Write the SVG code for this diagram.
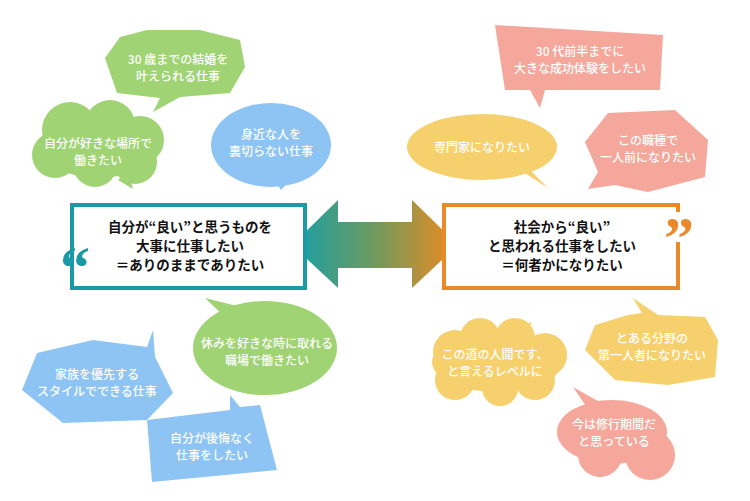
<svg xmlns="http://www.w3.org/2000/svg" width="750" height="501" viewBox="0 0 750 501">
<style>
.t{font-family:"Noto Sans CJK JP","Noto Sans",sans-serif;font-size:12px;fill:#fff;text-anchor:middle;font-weight:500}
.b{font-family:"Noto Sans CJK JP","Noto Sans",sans-serif;font-size:13.5px;fill:#111;text-anchor:middle;font-weight:700}
.g{fill:#a0d374}.bl{fill:#8ec4f4}.y{fill:#f7d06e}.s{fill:#f4a79a}
</style>
<defs><linearGradient id="gr" x1="0" x2="1"><stop offset="0" stop-color="#16a0a8"/><stop offset="0.5" stop-color="#6f9a5e"/><stop offset="1" stop-color="#f08a1e"/></linearGradient></defs>
<rect width="750" height="501" fill="#fff"/>
<g id="connectors"><path d="M292,245 L338,200 L338,222 L412,222 L412,200 L458,245 L412,288 L412,268 L338,268 L338,288 Z" fill="url(#gr)"/></g>
<g id="left-box"><rect x="72" y="205" width="233" height="83" fill="#fff" stroke="#1a9aa6" stroke-width="4"/>
<text x="60" y="288" font-family="Liberation Serif,serif" font-size="60" font-weight="bold" fill="#1a9aa6">“</text>
<text class="b" x="190" y="232">自分が“良い”と思うものを</text><text class="b" x="190" y="251">大事に仕事したい</text><text class="b" x="190" y="270">＝ありのままでありたい</text></g>
<g id="right-box"><rect x="444" y="205" width="234" height="83" fill="#fff" stroke="#e8892a" stroke-width="4"/>
<rect x="669" y="212" width="14" height="30" fill="#fff"/>
<text x="664" y="258" font-family="Liberation Serif,serif" font-size="60" font-weight="bold" fill="#e8892a">”</text>
<text class="b" x="562" y="232">社会から“良い”</text><text class="b" x="562" y="251">と思われる仕事をしたい</text><text class="b" x="562" y="270">＝何者かになりたい</text></g>
<g id="n1"><polygon class="g" points="105,58 120,37 147,30 200,30 240,40 245,67 230,93 180,97 153,112 160,98 117,93"/><text class="t" x="178" y="64">30 歳までの結婚を</text><text class="t" x="178" y="81">叶えられる仕事</text></g>
<g id="n2" class="g"><circle cx="70" cy="130" r="28"/><circle cx="110" cy="125" r="25"/><circle cx="140" cy="140" r="24"/><circle cx="55" cy="155" r="23"/><circle cx="95" cy="165" r="22"/><circle cx="135" cy="162" r="22"/><ellipse cx="98" cy="148" rx="55" ry="30"/><path d="M118,180 L133,189 L128,172 Z"/><text class="t" x="98" y="148">自分が好きな場所で</text><text class="t" x="98" y="165">働きたい</text></g>
<g id="n3" class="bl"><ellipse cx="271" cy="145" rx="60" ry="42"/><path d="M275,180 L281,190 L295,175 Z"/><text class="t" x="271" y="139">身近な人を</text><text class="t" x="271" y="156">裏切らない仕事</text></g>
<g id="n4" class="s"><polygon points="495,25 663,35 660,90 545,90 540,108 530,90 505,90"/><text class="t" x="580" y="56">30 代前半までに</text><text class="t" x="580" y="73">大きな成功体験をしたい</text></g>
<g id="n5" class="y"><ellipse cx="482" cy="147" rx="75" ry="33"/><path d="M520,170 L548,188 L530,170 Z"/><text class="t" x="482" y="152">専門家になりたい</text></g>
<g id="n6" class="s"><polygon points="585,142 608,113 675,110 708,140 705,177 648,192 615,185 588,189 598,172"/><text class="t" x="648" y="145">この職種で</text><text class="t" x="648" y="162">一人前になりたい</text></g>
<g id="n7" class="g"><ellipse cx="265" cy="348" rx="72" ry="47"/><path d="M205,298 L245,308 L228,320 Z"/><text class="t" x="267" y="348">休みを好きな時に取れる</text><text class="t" x="267" y="365">職場で働きたい</text></g>
<g id="n8" class="bl"><polygon points="22,390 37,353 93,340 147,347 153,330 155,357 173,393 147,420 63,423"/><text class="t" x="97" y="379">家族を優先する</text><text class="t" x="97" y="396">スタイルでできる仕事</text></g>
<g id="n9" class="bl"><polygon points="147,420 230,410 230,395 240,407 260,405 277,470 152,482"/><text class="t" x="212" y="443">自分が後悔なく</text><text class="t" x="212" y="460">仕事をしたい</text></g>
<g id="n10" class="y"><circle cx="455" cy="352" r="22"/><circle cx="480" cy="338" r="20"/><circle cx="515" cy="338" r="20"/><circle cx="545" cy="355" r="22"/><circle cx="455" cy="380" r="20"/><circle cx="500" cy="388" r="18"/><circle cx="535" cy="380" r="20"/><ellipse cx="497" cy="362" rx="65" ry="30"/><path d="M510,330 L532,322 L522,340 Z"/><text class="t" x="495" y="359">この道の人間です、</text><text class="t" x="495" y="376">と言えるレベルに</text></g>
<g id="n11" class="y"><polygon points="585,350 595,325 628,315 642,313 633,298 658,315 705,317 718,340 715,377 668,385 615,380"/><text class="t" x="652" y="343">とある分野の</text><text class="t" x="652" y="360">第一人者になりたい</text></g>
<g id="n12" class="s"><ellipse cx="612" cy="432" rx="55" ry="32"/><circle cx="650" cy="455" r="25"/><circle cx="600" cy="455" r="22"/><path d="M573,387 L605,405 L590,412 Z"/><text class="t" x="614" y="429">今は修行期間だ</text><text class="t" x="614" y="446">と思っている</text></g>
</svg>
